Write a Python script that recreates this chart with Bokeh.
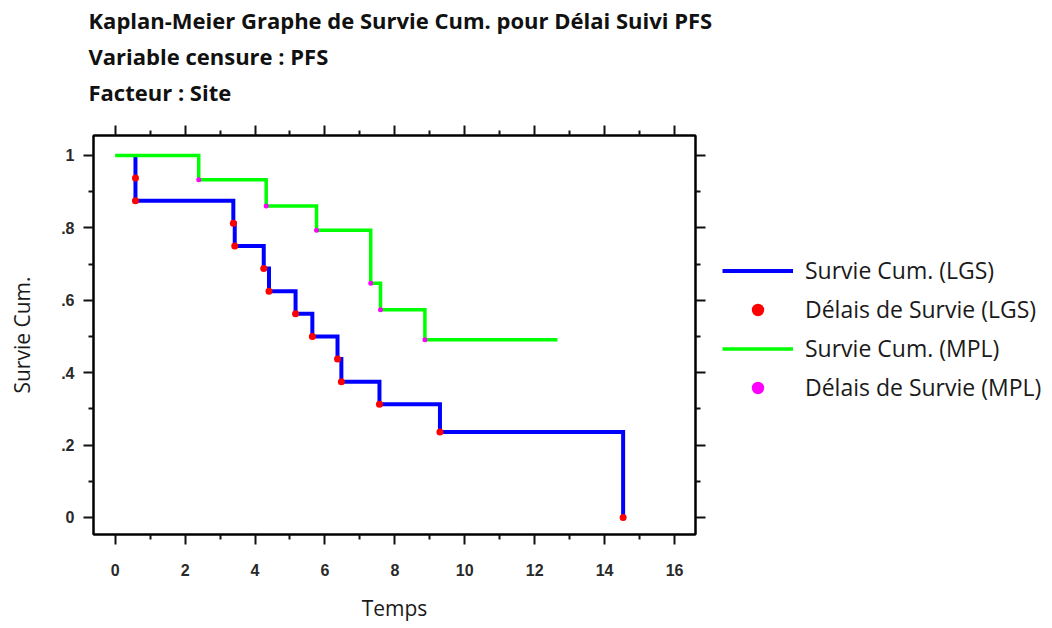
from bokeh.plotting import figure
from bokeh.layouts import row
from bokeh.models import LinearAxis, FixedTicker, Title, Legend, LegendItem, Range1d
from bokeh.embed import file_html
from bokeh.resources import INLINE

# ---------------- data ----------------
title_lines = [
    "Kaplan-Meier Graphe de Survie Cum. pour Délai Suivi PFS",
    "Variable censure : PFS",
    "Facteur : Site",
]
x_label = "Temps"
y_label = "Survie Cum."

# LGS group: event times and survival after each event
lgs_times = [0.58, 0.58, 3.38, 3.42, 4.25, 4.40, 5.16, 5.64, 6.36, 6.47, 7.56, 9.29, 14.53]
lgs_surv = [0.9375, 0.875, 0.8125, 0.75, 0.6875, 0.625, 0.5625, 0.5, 0.4375, 0.375, 0.3125, 0.236, 0.0]

# MPL group: event times and survival after each event, last follow-up (censored)
mpl_times = [2.39, 4.32, 5.76, 7.31, 7.59, 8.86]
mpl_surv = [0.933, 0.860, 0.793, 0.647, 0.574, 0.491]
mpl_last_followup = 12.65

legend_labels = [
    "Survie Cum. (LGS)",
    "Délais de Survie (LGS)",
    "Survie Cum. (MPL)",
    "Délais de Survie (MPL)",
]

x_ticks = [0, 2, 4, 6, 8, 10, 12, 14, 16]
x_minor_ticks = [1, 3, 5, 7, 9, 11, 13, 15]
y_ticks = [0.0, 0.2, 0.4, 0.6, 0.8, 1.0]
y_tick_labels = ["0", ".2", ".4", ".6", ".8", "1"]
y_minor_ticks = [0.1, 0.3, 0.5, 0.7, 0.9]

# colours / styles
LGS_LINE, LGS_PT = "#0000ff", "#ff0000"
MPL_LINE, MPL_PT = "#00ff00", "#ff00ff"

# ---------------- main figure ----------------
p = figure(
    frame_width=602, frame_height=399,
    output_backend="svg", toolbar_location=None,
    x_range=Range1d(-0.62, 16.6), y_range=Range1d(-0.047, 1.055),
    min_border_left=93, min_border_right=25, min_border_top=135, min_border_bottom=92,
)
p.background_fill_color = "white"
p.border_fill_color = "white"
p.xgrid.visible = False
p.ygrid.visible = False
p.outline_line_color = "black"
p.outline_line_width = 2


def style_axis(ax, ticks, minor, show_labels):
    ax.ticker = FixedTicker(ticks=ticks, minor_ticks=minor)
    ax.axis_line_color = "black"
    ax.axis_line_width = 2
    ax.major_tick_line_color = "#111111"
    ax.major_tick_line_width = 2
    ax.minor_tick_line_color = "#111111"
    ax.minor_tick_line_width = 2
    ax.major_tick_in = 0
    ax.major_tick_out = 10
    ax.minor_tick_in = 0
    ax.minor_tick_out = 5
    ax.major_label_text_font = "Liberation Sans"
    ax.major_label_text_font_style = "bold"
    ax.major_label_text_color = "#2a2a2a"
    ax.major_label_text_font_size = "16px"
    if not show_labels:
        ax.major_label_overrides = {t: "" for t in ticks}
        ax.major_label_standoff = 0


xa = p.xaxis[0]
ya = p.yaxis[0]
style_axis(xa, x_ticks, x_minor_ticks, True)
style_axis(ya, y_ticks, y_minor_ticks, True)
xa.major_label_standoff = 19
ya.major_label_standoff = 9
ya.major_label_overrides = dict(zip(y_ticks, y_tick_labels))
xa.axis_label = x_label
ya.axis_label = y_label
for ax in (xa, ya):
    ax.axis_label_text_font = "Open Sans"
    ax.axis_label_text_font_style = "normal"
    ax.axis_label_text_font_size = "21px"
    ax.axis_label_text_color = "#1a1a1a"
xa.axis_label_standoff = 15
ya.axis_label_standoff = 22

top_axis = LinearAxis()
style_axis(top_axis, x_ticks, x_minor_ticks, False)
p.add_layout(top_axis, "above")

# invisible spacer between the top ticks and the title block
spacer = LinearAxis()
style_axis(spacer, x_ticks, [], False)
spacer.axis_line_color = None
spacer.major_tick_line_color = None
spacer.minor_tick_line_color = None
spacer.major_tick_out = 17
p.add_layout(spacer, "above")

right_axis = LinearAxis()
style_axis(right_axis, y_ticks, y_minor_ticks, False)
p.add_layout(right_axis, "right")

# titles (stacked above: index nearest frame first)
for txt in reversed(title_lines[1:]):
    t = Title(text=txt, align="left", text_font="Open Sans", text_font_style="bold",
              text_font_size="22px", text_color="#111111", offset=-5, standoff=4)
    p.add_layout(t, "above")
p.title.text = title_lines[0]
p.title.align = "left"
p.title.text_font = "Open Sans"
p.title.text_font_style = "bold"
p.title.text_font_size = "22px"
p.title.text_color = "#111111"
p.title.offset = -5
p.title.standoff = 4

# ---------------- curves ----------------
lgs_x = [lgs_times[0]] + lgs_times
lgs_y = [1.0] + lgs_surv
mpl_x = [0.0] + mpl_times + [mpl_last_followup]
mpl_y = [1.0] + mpl_surv + [mpl_surv[-1]]

line_kw_lgs = dict(line_color=LGS_LINE, line_width=4, line_join="miter")
line_kw_mpl = dict(line_color=MPL_LINE, line_width=3.5, line_join="miter")
pt_kw_lgs = dict(size=7, fill_color=LGS_PT, line_color=None)
pt_kw_mpl = dict(size=5, fill_color=MPL_PT, line_color=None)

p.step(lgs_x, lgs_y, mode="after", **line_kw_lgs)
p.step(mpl_x, mpl_y, mode="after", **line_kw_mpl)
p.scatter(lgs_times, lgs_surv, **pt_kw_lgs)
p.scatter(mpl_times, mpl_surv, **pt_kw_mpl)

# ---------------- legend panel (separate figure to the right) ----------------
P_WIDTH = 93 + 602 + 25
PANEL_H = 135 + 399 + 92
q = figure(width=1052 - P_WIDTH, height=PANEL_H, output_backend="svg", toolbar_location=None,
           x_axis_location=None, y_axis_location=None, min_border=0,
           x_range=Range1d(-3, -2), y_range=Range1d(-3, -2))
q.xgrid.visible = False
q.ygrid.visible = False
q.outline_line_color = None
q.background_fill_color = "white"
q.border_fill_color = "white"

# legend proxies: the first point of each series, outside this panel's view
g1 = q.step([lgs_x[0]], [lgs_y[0]], mode="after", **line_kw_lgs)
g2 = q.scatter([lgs_times[0]], [lgs_surv[0]], **pt_kw_lgs)
g3 = q.step([mpl_x[0]], [mpl_y[0]], mode="after", **line_kw_mpl)
g4 = q.scatter([mpl_times[0]], [mpl_surv[0]], **pt_kw_mpl)

legend = Legend(
    items=[
        LegendItem(label=legend_labels[0], renderers=[g1]),
        LegendItem(label=legend_labels[1], renderers=[g2]),
        LegendItem(label=legend_labels[2], renderers=[g3]),
        LegendItem(label=legend_labels[3], renderers=[g4]),
    ],
    location=(722 - P_WIDTH, 131), orientation="vertical",
    border_line_color=None, background_fill_alpha=0,
    glyph_width=71, glyph_height=31, label_height=31, spacing=7, label_standoff=12,
    label_text_font="Open Sans", label_text_font_size="23px", label_text_color="#1a1a1a",
    padding=0, margin=0,
)
q.add_layout(legend)

layout = row(p, q)
open("out.html", "w").write(file_html(layout, INLINE))
